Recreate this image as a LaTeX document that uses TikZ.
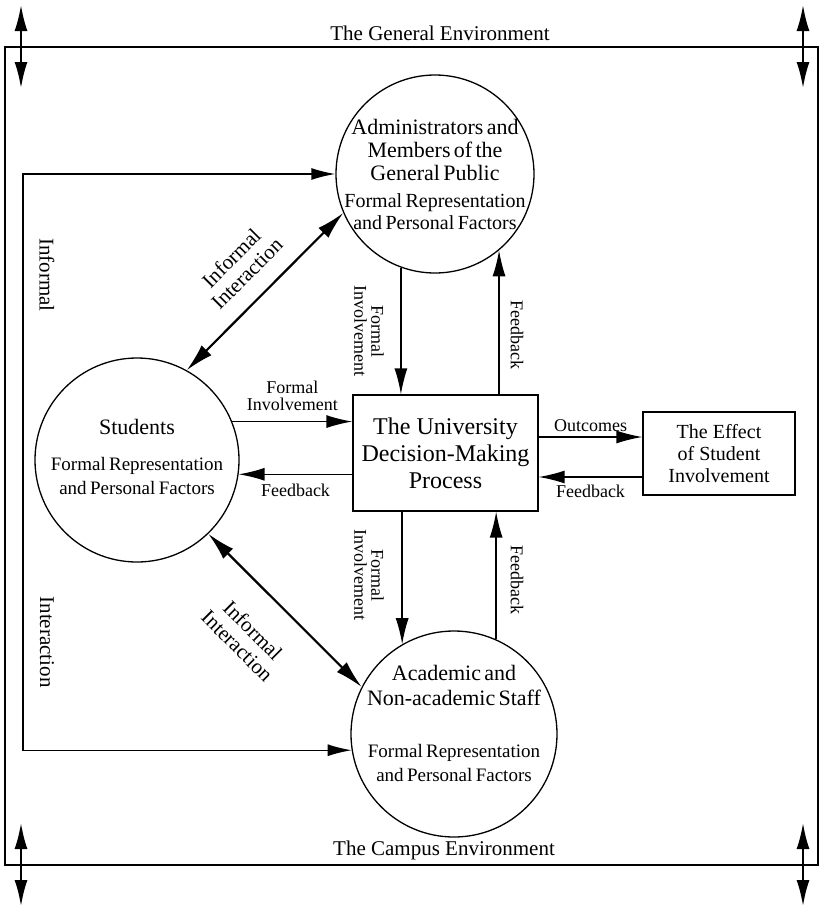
\documentclass[tikz,border=0pt]{standalone}
\usepackage{fontspec}
\setmainfont{Liberation Serif}
\usetikzlibrary{arrows.meta, positioning}

\begin{document}
\begin{tikzpicture}[x=1pt, y=-1pt,
            circ/.style={circle, draw, line width=1.3pt, inner sep=0pt},
            ctext/.style={align=center, text width=200pt, inner sep=0pt},
            procbox/.style={rectangle, draw, line width=1.3pt, align=center, inner sep=0pt},
            etext/.style={font=\fontsize{21}{22}\selectfont, inner sep=2pt},
            lbl/.style={font=\fontsize{18}{17}\selectfont, align=center, inner sep=2pt},
            itext/.style={font=\fontsize{21}{22}\selectfont, align=center, inner sep=2pt},
            edge/.style={-{Latex[length=26pt, width=13pt]}, line width=1.4pt},
            loopedge/.style={{Latex[length=24pt, width=12pt]}-{Latex[length=24pt, width=12pt]}, line width=1.4pt},
            link/.style={{Latex[length=28pt, width=14pt]}-{Latex[length=28pt, width=14pt]}, line width=2.2pt},
            envarrow/.style={{Latex[length=26pt, width=13pt]}-{Latex[length=26pt, width=13pt]}, line width=2pt}
        ]
        \useasboundingbox (0,0) rectangle (823,911);

        % Environments (manual layout to match figure)
        \node[draw, line width=1.3pt, minimum width=813pt, minimum height=818pt, inner sep=0pt] (campus) at (411.5,456) {};
        \node[etext] (genv) at (440,33) {The General Environment};
        \node[etext] (cenv) at (444,850) {The Campus Environment};

        \coordinate (gl1) at (21,5);   \coordinate (gl2) at (21,88);
        \coordinate (gr1) at (803,5);  \coordinate (gr2) at (803,88);
        \coordinate (cl1) at (21,823); \coordinate (cl2) at (21,906);
        \coordinate (cr1) at (803,823); \coordinate (cr2) at (803,906);
        \draw[envarrow] (gl1) -- (gl2);
        \draw[envarrow] (gr1) -- (gr2);
        \draw[envarrow] (cl1) -- (cl2);
        \draw[envarrow] (cr1) -- (cr2);

        % Groups
        \node[circ, minimum size=198pt] (adm) at (435,174) {};
        \node[circ, minimum size=204pt] (stu) at (137,460) {};
        \node[circ, minimum size=206pt] (stf) at (454,734) {};

        \node[ctext] (admtxt) at (adm) {{\fontsize{22}{23}\selectfont Administrators and\\Members of the\\General Public\par}\vspace{5pt}{\fontsize{20}{22}\selectfont Formal Representation\\and Personal Factors\par}};
        \node[ctext, yshift=3pt] (stutxt) at (stu) {{\fontsize{22}{23}\selectfont Students\par}\vspace{12pt}{\fontsize{19}{24}\selectfont Formal Representation\\and Personal Factors\par}};
        \node[ctext, yshift=11pt] (stftxt) at (stf) {{\fontsize{22}{25}\selectfont Academic and\\Non-academic Staff\par}\vspace{28pt}{\fontsize{19}{24}\selectfont Formal Representation\\and Personal Factors\par}};

        % Process and outcome
        \node[procbox, minimum width=185pt, minimum height=116pt, font=\fontsize{24}{27}\selectfont] (dmp) at (445.5,453) {The University\\Decision-Making\\Process};
        \node[procbox, minimum width=152pt, minimum height=83pt, font=\fontsize{20}{22}\selectfont] (eff) at (719,453.5) {The Effect\\of Student\\Involvement};

        % Edges
        \draw[edge] (adm.250) -- (adm.250 |- dmp.north);
        \draw[edge] (adm.-50 |- dmp.north) -- (adm.-50);
        \node[lbl, rotate=-90] (fi-adm) at (369,331) {Formal\\Involvement};
        \node[lbl, rotate=-90] (fb-adm) at (517,335) {Feedback};

        \draw[edge] (stf.120 |- dmp.south) -- (stf.120);
        \draw[edge] (stf.66) -- (stf.66 |- dmp.south);
        \node[lbl, rotate=-90] (fi-stf) at (369,575) {Formal\\Involvement};
        \node[lbl, rotate=-90] (fb-stf) at (517,580) {Feedback};

        \draw[edge] (stu.22) -- node[lbl, above=8pt] (fi-stu) {Formal\\Involvement} (stu.22 -| dmp.west);
        \draw[edge] (stu.-8 -| dmp.west) -- node[lbl, below=7pt] (fb-stu) {Feedback} (stu.-8);

        \coordinate (outa) at ([yshift=16pt]dmp.east);
        \coordinate (outb) at ([yshift=-24pt]dmp.east);
        \draw[edge] (outa) -- node[lbl, above=3pt] (oc-eff) {Outcomes} (outa -| eff.west);
        \draw[edge] (outb -| eff.west) -- node[lbl, below=5pt] (fb-eff) {Feedback} (outb);

        % Informal interaction
        \coordinate (lp) at (23,0);
        \draw[loopedge] (adm.west) -- (adm.west -| lp) -- (lp |- stf.189) -- (stf.189);
        \node[itext, rotate=-90] (inf-a) at (47,275) {Informal};
        \node[itext, rotate=-90] (inf-b) at (47,642) {Interaction};

        \draw[link] (stu.61) -- node[itext, sloped, above=15pt] (ii-adm) {Informal\\Interaction} (adm.203);
        \draw[link] (stu.-46) -- node[itext, sloped, pos=0.46, below=26pt] (ii-stf) {Informal\\Interaction} (stf.153);

        \end{tikzpicture}
\end{document}
